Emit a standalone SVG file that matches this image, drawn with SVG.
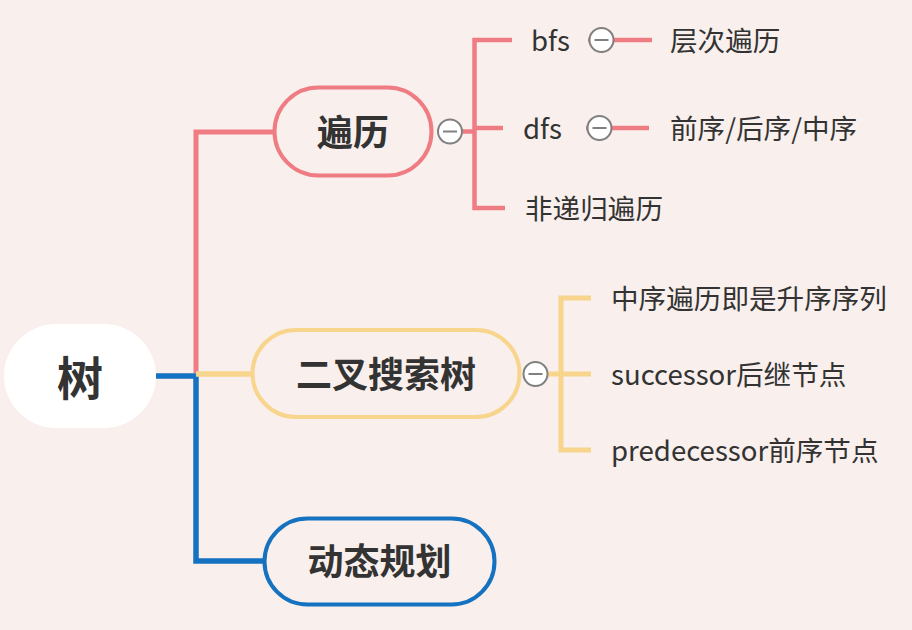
<svg xmlns="http://www.w3.org/2000/svg" width="912" height="630" viewBox="0 0 912 630">
<style>
text{font-family:"Noto Sans CJK SC","Noto Sans",sans-serif;fill:#333;dominant-baseline:central}
.main{font-size:36px;font-weight:bold;text-anchor:middle}
.leaf{font-size:27.6px}
.pk{stroke:#F07C83;fill:none}
.yl{stroke:#F8D58C;fill:none}
.bl{stroke:#1572C0;fill:none}
.tog circle{fill:#fff;stroke:#808080;stroke-width:2}
.tog line{stroke:#808080;stroke-width:2}
</style>
<rect width="912" height="630" fill="#F9EFEC"/>
<g id="connectors">
<path class="pk" d="M274 132 H196 V373" stroke-width="5"/>
<path class="bl" d="M156 376 H196 V561 H264" stroke-width="5.5"/>
<path class="yl" d="M196 374 H252" stroke-width="5.5"/>
<path class="pk" d="M462 131.5 H474.5 M512 40 H474.5 V208 H505 M474.5 128 H503" stroke-width="4.5"/>
<path class="pk" d="M588 40 H652 M586 128 H649" stroke-width="4.5"/>
<path class="yl" d="M548 374 H561 M591 298 H561 V450 H591 M561 374 H591" stroke-width="5"/>
</g>
<g id="root">
<rect x="4" y="324" width="152" height="104" rx="52" fill="#fff"/>
<text x="80" y="375" class="main" style="font-size:46px">树</text>
</g>
<g id="traverse">
<rect x="274.5" y="87.5" width="157" height="88" rx="44" fill="#F9EFEC" stroke="#F07C83" stroke-width="4"/>
<text x="353" y="130" class="main">遍历</text>
<g class="tog"><circle cx="450" cy="131.5" r="12"/><line x1="443" y1="131.5" x2="457" y2="131.5"/></g>
</g>
<g id="bfs">
<text x="531" y="38.5" class="leaf">bfs</text>
<g class="tog"><circle cx="601.5" cy="40" r="12"/><line x1="594.5" y1="40" x2="608.5" y2="40"/></g>
</g>
<g id="bfs-level"><text x="670" y="38.5" class="leaf">层次遍历</text></g>
<g id="dfs">
<text x="523" y="126.5" class="leaf">dfs</text>
<g class="tog"><circle cx="599.5" cy="128" r="12"/><line x1="592.5" y1="128" x2="606.5" y2="128"/></g>
</g>
<g id="dfs-order"><text x="670" y="126.5" class="leaf">前序/后序/中序</text></g>
<g id="nonrec"><text x="525" y="206.5" class="leaf">非递归遍历</text></g>
<g id="bst">
<rect x="252.5" y="330" width="267" height="87" rx="43.5" fill="#F9EFEC" stroke="#F8D58C" stroke-width="4"/>
<text x="386" y="372" class="main">二叉搜索树</text>
<g class="tog"><circle cx="535.5" cy="374" r="12"/><line x1="528.5" y1="374" x2="542.5" y2="374"/></g>
</g>
<g id="bst-inorder"><text x="611" y="296.5" class="leaf">中序遍历即是升序序列</text></g>
<g id="bst-succ"><text x="611" y="372.5" class="leaf">successor后继节点</text></g>
<g id="bst-pred"><text x="611" y="448.5" class="leaf">predecessor前序节点</text></g>
<g id="dp">
<rect x="264.5" y="518.5" width="230" height="86" rx="43" fill="#F9EFEC" stroke="#1572C0" stroke-width="4"/>
<text x="379.5" y="559" class="main">动态规划</text>
</g>
</svg>
